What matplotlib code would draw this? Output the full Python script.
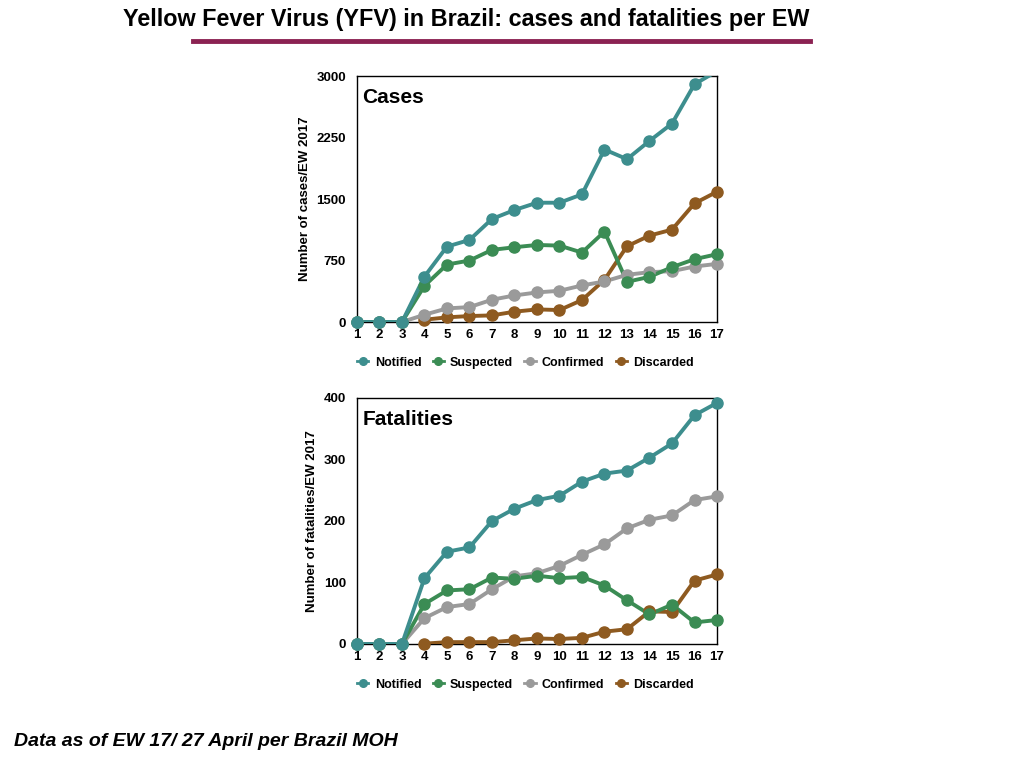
import numpy as np
import matplotlib.pyplot as plt
from matplotlib.lines import Line2D

weeks = list(range(1, 18))
series_names = ['Notified', 'Suspected', 'Confirmed', 'Discarded']
colors = ['#3D8E8E', '#3B8C54', '#9A9A9A', '#8E5A20']

# cases per EW
cases_notified = [0, 0, 0, 555, 920, 1001, 1257, 1366, 1455, 1455, 1557, 2104, 1986, 2209, 2420, 2900, 3060]
cases_suspected = [0, 0, 0, 442, 701, 750, 880, 912, 940, 932, 847, 1103, 490, 551, 669, 766, 827]
cases_confirmed = [0, 0, 0, 89, 166, 182, 272, 324, 361, 381, 446, 495, 576, 608, 620, 677, 709]
cases_discarded = [np.nan, np.nan, np.nan, 28, 57, 73, 81, 126, 154, 146, 268, 515, 924, 1054, 1127, 1447, 1589]

# fatalities per EW
fat_notified = [0, 0, 0, 107, 150, 157, 200, 220, 234, 241, 264, 277, 282, 303, 326, 372, 392]
fat_suspected = [0, 0, 0, 65, 87, 89, 108, 106, 111, 107, 109, 95, 71, 48, 64, 35, 39]
fat_confirmed = [0, 0, 0, 42, 60, 65, 89, 110, 115, 127, 145, 162, 188, 202, 209, 234, 240]
fat_discarded = [np.nan, np.nan, np.nan, 0.5, 3, 3, 3, 6, 9, 8, 10, 20, 24, 53, 52, 103, 113]

cases_ticks = [0, 750, 1500, 2250, 3000]
fat_ticks = [0, 100, 200, 300, 400]

plt.rcParams['font.family'] = ['Liberation Sans', 'DejaVu Sans']

fig = plt.figure(figsize=(10.24, 7.68), dpi=100)


def draw_panel(rect, data, ticks, ylabel, label):
    ax = fig.add_axes(rect)
    top = ticks[-1]
    # draw in reverse so notified sits on top
    for vals, c in reversed(list(zip(data, colors))):
        vals = np.array(vals, dtype=float)
        ax.plot(weeks, vals, color=c, linewidth=2.8, zorder=3)
        # markers may sit over the frame, but points above the range are dropped
        shown = np.where(vals <= top, vals, np.nan)
        ax.plot(weeks, shown, linestyle='none', marker='o', markersize=8, color=c,
                zorder=4, clip_on=False)
    ax.set_xlim(1, 17)
    ax.set_ylim(ticks[0], top)
    ax.set_xticks(weeks)
    ax.set_yticks(ticks)
    ax.tick_params(length=0, labelsize=9.5)
    ax.tick_params(axis='y', pad=8)
    ax.tick_params(axis='x', pad=5)
    for t in ax.get_xticklabels() + ax.get_yticklabels():
        t.set_fontweight('bold')
    for s in ax.spines.values():
        s.set_linewidth(1.0)
        s.set_color('black')
    ax.set_ylabel(ylabel, fontsize=9.5, fontweight='bold', labelpad=4)
    ax.text(0.015, 0.95, label, transform=ax.transAxes, fontsize=15, fontweight='bold',
            va='top', ha='left')
    handles = [Line2D([], [], color=c, marker='o', markersize=5.5, linewidth=2) for c in colors]
    ax.legend(handles, series_names, loc='upper center', bbox_to_anchor=(0.468, -0.095),
              ncol=4, frameon=False, handlelength=0.9, handletextpad=0.5,
              columnspacing=0.9, prop={'weight': 'bold', 'size': 9})
    return ax


draw_panel([0.3486, 0.5807, 0.3516, 0.3203],
           [cases_notified, cases_suspected, cases_confirmed, cases_discarded],
           cases_ticks, 'Number of cases/EW 2017', 'Cases')
draw_panel([0.3486, 0.1615, 0.3516, 0.3203],
           [fat_notified, fat_suspected, fat_confirmed, fat_discarded],
           fat_ticks, 'Number of fatalities/EW 2017', 'Fatalities')

fig.text(0.455, 0.975, 'Yellow Fever Virus (YFV) in Brazil: cases and fatalities per EW',
         ha='center', va='center', fontsize=16.8, fontweight='bold')
fig.add_artist(Line2D([193 / 1024, 810 / 1024], [1 - 41 / 768, 1 - 41 / 768],
                      color='#8B2252', linewidth=3.5, transform=fig.transFigure))
fig.text(0.014, 0.035, 'Data as of EW 17/ 27 April per Brazil MOH', ha='left', va='center',
         fontsize=14, fontweight='bold', style='italic')

fig.savefig('out.png', dpi=100)
